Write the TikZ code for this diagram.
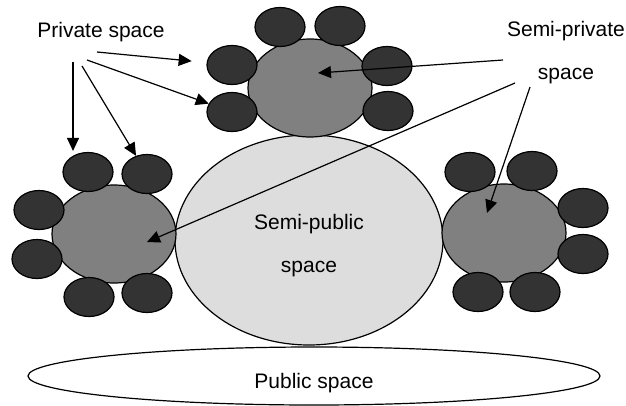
\documentclass[tikz,border=0pt]{standalone}
\usepackage{fontspec}
\setmainfont{Liberation Sans}
\usetikzlibrary{shapes.geometric,arrows.meta}
\definecolor{seatgray}{HTML}{333333}
\definecolor{tablegray}{HTML}{808080}
\definecolor{hallgray}{HTML}{DDDDDD}
\begin{document}
\begin{tikzpicture}[x=1pt,y=-1pt,
  seat/.style={draw, ellipse, line width=1.2pt, fill=seatgray, minimum width=50pt, minimum height=39pt, inner sep=0pt},
  tablebox/.style={draw, ellipse, line width=1.2pt, fill=tablegray, minimum width=124pt, minimum height=98pt, inner sep=0pt},
  lbl/.style={font=\fontsize{21}{43}\selectfont, align=center, inner sep=0pt},
  pointer/.style={-{Triangle[length=13pt,width=12pt]}, line width=1.2pt}]
\useasboundingbox (0,0) rectangle (626,405);

% public and semi-public space
\node[draw, ellipse, line width=1.2pt, fill=white, minimum width=572pt, minimum height=58pt, inner sep=0pt] (pub) at (314,376) {};
\node[lbl] (pubtxt) at (314,383) {Public space};
\node[draw, ellipse, line width=1.2pt, fill=hallgray, minimum width=268pt, minimum height=210pt, inner sep=0pt] (semipub) at (309,240) {};
\node[lbl] (semipubtxt) at (309,246) {Semi-public\\space};

% top table
\node[tablebox] (topc) at (310,88) {};
\node[seat] (topnw) at (280,27) {};
\node[seat] (topne) at (340,26) {};
\node[seat] (topwu) at (232,65) {};
\node[seat] (topwl) at (232,112) {};
\node[seat] (topeu) at (387,66) {};
\node[seat] (topel) at (388,111) {};

% left table
\node[tablebox] (leftc) at (114,234) {};
\node[seat] (leftnw) at (88,172) {};
\node[seat] (leftne) at (147,174) {};
\node[seat] (leftwu) at (39,210) {};
\node[seat] (leftwl) at (37,259) {};
\node[seat] (leftsw) at (89,297) {};
\node[seat] (leftse) at (147,293) {};

% right table
\node[tablebox] (rightc) at (504,233) {};
\node[seat] (rightnw) at (470,172) {};
\node[seat] (rightne) at (532,171) {};
\node[seat] (righteu) at (583,208) {};
\node[seat] (rightel) at (583,254) {};
\node[seat] (rightsw) at (478,292) {};
\node[seat] (rightse) at (535,292) {};

% labels
\node[lbl] (priv) at (101,32) {Private space};
\node[lbl] (semipriv) at (566,53) {Semi-private\\space};

\coordinate (pa) at (97,52);
\coordinate (pb) at (87,60);
\coordinate (pc) at (73,62);
\coordinate (pd) at (82,66);
\coordinate (sa) at (503,60);
\coordinate (sb) at (515,83);
\coordinate (sc) at (530,87);
\coordinate (spTop) at (318,73);
\coordinate (spLeft) at (147,242);
\coordinate (spRight) at (487,213);

\draw[pointer, shorten >=15pt] (pa) -- (topwu);
\draw[pointer] (pb) -- (topwl);
\draw[pointer, shorten >=1pt] (pc) -- (pc |- leftnw.north);
\draw[pointer] (pd) -- (leftne);
\draw[pointer] (sa) -- (spTop);
\draw[pointer] (sb) -- (spLeft);
\draw[pointer] (sc) -- (spRight);
\end{tikzpicture}
\end{document}
